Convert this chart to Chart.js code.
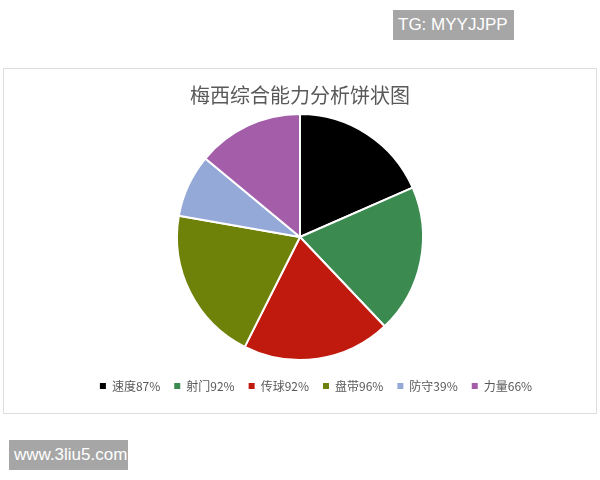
<!DOCTYPE html>
<html>
<head>
<meta charset="utf-8">
<script src="https://cdn.jsdelivr.net/npm/chart.js@4/dist/chart.umd.min.js"></script>
<style>
  body { margin: 0; background: #fff; width: 600px; height: 480px; position: relative; overflow: hidden; }
  .box { position: absolute; left: 3px; top: 68px; width: 592px; height: 344px; border: 1px solid #dedede; background: #fff; }
  .mark { position: absolute; background: #a6a6a6; color: #fff; font-family: "Liberation Sans", Arial, sans-serif; font-size: 17px; line-height: 30px; padding: 0 5px; }
</style>
</head>
<body>
<div class="mark" style="left:393px; top:10px; width:111px;">TG: MYYJJPP</div>
<div class="box"><canvas id="pieChart" width="592" height="344"></canvas></div>
<div class="mark" style="left:9px; top:440px; width:109px;">www.3liu5.com</div>
<script>
const categories = ['速度', '射门', '传球', '盘带', '防守', '力量'];
const values = [87, 92, 92, 96, 39, 66];
const colors = ['#000000', '#3b8a50', '#c0190e', '#6e8209', '#95a9d8', '#a45ea9'];

const font = '"Noto Sans CJK SC", "Noto Sans", sans-serif';

// legend sits a bit right of centre in the original
const legendShift = {
    id: 'legendShift',
    afterLayout(chart) {
        chart.legend.left += 16;
        chart.legend.right += 16;
    }
};

new Chart(document.getElementById('pieChart'), {
    type: 'pie',
    data: {
        labels: categories.map((c, i) => c + values[i] + '%'),
        datasets: [{ data: values, backgroundColor: colors, borderColor: '#ffffff', borderWidth: 2, radius: 123 }]
    },
    options: {
        responsive: false,
        animation: false,
        layout: { padding: { top: 14, bottom: 11 } },
        plugins: {
            tooltip: { enabled: false },
            title: {
                display: true,
                text: '梅西综合能力分析饼状图',
                color: '#595959',
                font: { family: font, size: 20, weight: 'normal' },
                padding: { top: 0, bottom: 1 }
            },
            legend: {
                position: 'bottom',
                labels: {
                    color: '#595959',
                    font: { family: font, size: 12 },
                    boxWidth: 6,
                    boxHeight: 6,
                    padding: 14,
                    generateLabels: chart => {
                        const items = Chart.overrides.pie.plugins.legend.labels.generateLabels(chart);
                        items.forEach(it => { it.lineWidth = 0; });
                        return items;
                    }
                }
            }
        }
    },
    plugins: [legendShift]
});
</script>
</body>
</html>
